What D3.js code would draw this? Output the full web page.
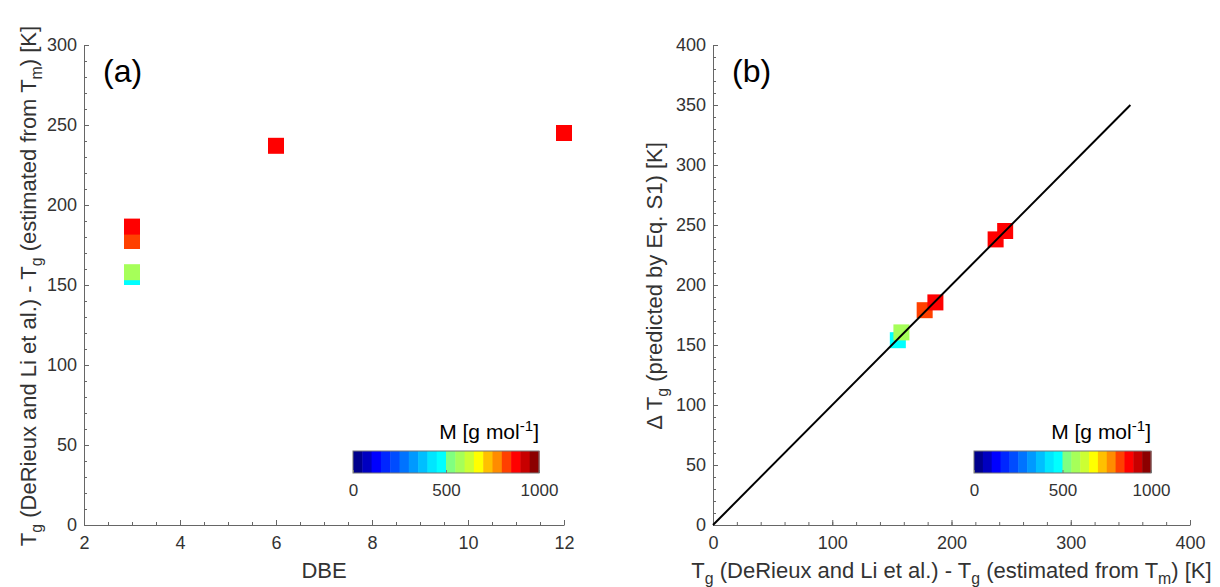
<!DOCTYPE html>
<html>
<head>
<meta charset="utf-8">
<script src="https://cdn.jsdelivr.net/npm/d3@7"></script>
<style>
  html, body { margin: 0; padding: 0; background: #fff; }
  svg { display: block; font-family: "Liberation Sans", Arial, sans-serif; }
</style>
</head>
<body>
<svg id="chart" width="1220" height="587"></svg>
<script>
// ---------------- data ----------------
const dbe       = [3, 3, 3, 3, 6, 12];
const tgDiff    = [155, 158, 177.5, 186.5, 237, 245];   // Tg(DeRieux & Li) - Tg(est. from Tm)
const tgPred    = [154, 160.5, 179, 185.5, 238, 245];   // ΔTg predicted by Eq. S1
const molarMass = [475, 575, 825, 875, 875, 875];       // M [g mol-1]

const xTicksA = [2, 4, 6, 8, 10, 12];
const yTicksA = [0, 50, 100, 150, 200, 250, 300];
const xTicksB = [0, 100, 200, 300, 400];
const yTicksB = [0, 50, 100, 150, 200, 250, 300, 350, 400];
const cbTicks = [0, 500, 1000];
const oneToOne = [0, 350];

const jetColors = [
  "#00008c", "#0000c0", "#0000ff", "#0026ff", "#004cff",
  "#0073ff", "#0099ff", "#00bfff", "#00e6ff", "#00ffff",
  "#80ff80", "#a6ff59", "#ccff33", "#ffff00", "#ffc000",
  "#ff8c00", "#ff4000", "#ff0000", "#c80000", "#8c0000"
];

// ---------------- helpers ----------------
const svg = d3.select("#chart");
svg.append("rect").attr("width", 1220).attr("height", 587).attr("fill", "#fff");

const color = d3.scaleQuantize().domain([0, 1000]).range(jetColors);

function rich(textSel, parts, fs) {
  let pending = 0;
  parts.forEach(p => {
    const t = textSel.append("tspan").text(p.t);
    if (p.sub) {
      t.attr("font-size", fs * 0.72).attr("dy", pending + fs * 0.27);
      pending = -fs * 0.27;
    } else if (p.sup) {
      t.attr("font-size", fs * 0.72).attr("dy", pending - fs * 0.4);
      pending = fs * 0.4;
    } else {
      if (pending) t.attr("dy", pending);
      pending = 0;
    }
  });
}

const axisColor = "#666";
const textColor = "#333";

function styleAxis(g) {
  g.selectAll(".domain").attr("stroke", axisColor).attr("stroke-width", 1);
  g.selectAll(".tick line").attr("stroke", axisColor);
  g.selectAll(".tick text").attr("fill", textColor).attr("font-size", 18)
    .attr("font-family", "Liberation Sans, Arial, sans-serif");
}

function panel(o) {
  const x = d3.scaleLinear().domain(o.xDomain).range([o.left, o.right]);
  const y = d3.scaleLinear().domain(o.yDomain).range([o.bottom, o.top]);
  const g = svg.append("g");

  // minor ticks
  g.append("g").attr("transform", `translate(0,${o.bottom})`)
    .call(d3.axisBottom(x).tickValues(d3.range(o.xDomain[0], o.xDomain[1] + 1e-9, o.xMinor)).tickSize(-3).tickFormat(""))
    .call(s => { s.select(".domain").remove(); s.selectAll("line").attr("stroke", axisColor); s.selectAll("text").remove(); });
  g.append("g").attr("transform", `translate(${o.left},0)`)
    .call(d3.axisLeft(y).tickValues(d3.range(o.yDomain[0], o.yDomain[1] + 1e-9, o.yMinor)).tickSize(-3).tickFormat(""))
    .call(s => { s.select(".domain").remove(); s.selectAll("line").attr("stroke", axisColor); s.selectAll("text").remove(); });

  // major axes
  const gx = g.append("g").attr("transform", `translate(0,${o.bottom})`)
    .call(d3.axisBottom(x).tickValues(o.xTicks).tickFormat(d3.format("d")).tickSize(-5).tickSizeOuter(0).tickPadding(10));
  styleAxis(gx);
  gx.selectAll(".tick text").attr("dy", "0.8em");
  const gy = g.append("g").attr("transform", `translate(${o.left},0)`)
    .call(d3.axisLeft(y).tickValues(o.yTicks).tickFormat(d3.format("d")).tickSize(-5).tickSizeOuter(0).tickPadding(7));
  styleAxis(gy);

  // markers
  const ms = 16;
  g.append("g").selectAll("rect").data(o.points).join("rect")
    .attr("x", d => x(d.x) - ms / 2)
    .attr("y", d => y(d.y) - ms / 2)
    .attr("width", ms).attr("height", ms)
    .attr("fill", d => color(d.m));

  if (o.line) {
    g.append("line")
      .attr("x1", x(o.line[0])).attr("y1", y(o.line[0]))
      .attr("x2", x(o.line[1])).attr("y2", y(o.line[1]))
      .attr("stroke", "#000").attr("stroke-width", 2);
  }

  // panel label
  g.append("text").attr("x", o.left + 19).attr("y", 82)
    .attr("font-size", 32).attr("fill", "#000").text(o.tag);

  // axis labels
  const fs = 22;
  const xl = g.append("text").attr("x", (o.left + o.right) / 2 + (o.xLabelShift || 0)).attr("y", 578)
    .attr("text-anchor", "middle").attr("font-size", fs).attr("fill", textColor);
  rich(xl, o.xLabel, fs);
  const yl = g.append("text")
    .attr("transform", `translate(${o.yLabelX},${(o.top + o.bottom) / 2 + (o.yLabelShift || 0)}) rotate(-90)`)
    .attr("text-anchor", "middle").attr("font-size", fs).attr("fill", textColor);
  rich(yl, o.yLabel, fs);

  // colorbar
  const cb = g.append("g");
  const cx = d3.scaleLinear().domain([0, 1000]).range([o.cb[0], o.cb[1]]);
  const cbTop = 451, cbH = 22;
  cb.selectAll("rect").data(jetColors).join("rect")
    .attr("x", (d, i) => cx(i * 50))
    .attr("y", cbTop)
    .attr("width", (d, i) => cx((i + 1) * 50) - cx(i * 50) + 0.5)
    .attr("height", cbH)
    .attr("fill", d => d);
  cb.append("rect").attr("x", o.cb[0]).attr("y", cbTop).attr("width", o.cb[1] - o.cb[0]).attr("height", cbH)
    .attr("fill", "none").attr("stroke", "#777").attr("stroke-width", 1);
  const ca = cb.append("g").attr("transform", `translate(0,${cbTop + cbH})`)
    .call(d3.axisBottom(cx).tickValues(cbTicks).tickFormat(d3.format("d")).tickSize(-3).tickSizeOuter(0).tickPadding(9));
  ca.select(".domain").remove();
  ca.selectAll(".tick line").attr("stroke", "#777");
  ca.selectAll(".tick text").attr("fill", textColor).attr("font-size", 17)
    .attr("font-family", "Liberation Sans, Arial, sans-serif").attr("dy", "0.8em");
  const ct = cb.append("text").attr("x", o.cb[1]).attr("y", 439)
    .attr("text-anchor", "end").attr("font-size", 21).attr("fill", "#000");
  rich(ct, [{t: "M [g mol"}, {t: "-1", sup: true}, {t: "]"}], 21);
}

const pts = d => dbe.map((v, i) => d(i));

const tgLabel = [
  {t: "T"}, {t: "g", sub: true}, {t: " (DeRieux and Li et al.) - T"}, {t: "g", sub: true},
  {t: " (estimated from T"}, {t: "m", sub: true}, {t: ") [K]"}
];

panel({
  left: 84, right: 564, top: 45, bottom: 525,
  xDomain: [2, 12], yDomain: [0, 300],
  xTicks: xTicksA, yTicks: yTicksA, xMinor: 0.5, yMinor: 10,
  points: pts(i => ({x: dbe[i], y: tgDiff[i], m: molarMass[i]})),
  tag: "(a)",
  xLabel: [{t: "DBE"}],
  yLabel: tgLabel, yLabelX: 36, yLabelShift: 1,
  cb: [353, 539]
});

panel({
  left: 713, right: 1190, top: 45, bottom: 525,
  xDomain: [0, 400], yDomain: [0, 400],
  xTicks: xTicksB, yTicks: yTicksB, xMinor: 20, yMinor: 10,
  points: pts(i => ({x: tgDiff[i], y: tgPred[i], m: molarMass[i]})),
  line: oneToOne,
  tag: "(b)",
  xLabel: tgLabel, xLabelShift: 0,
  yLabel: [{t: "\u0394 T"}, {t: "g", sub: true}, {t: " (predicted by Eq. S1) [K]"}], yLabelX: 662, yLabelShift: 1,
  cb: [974, 1151]
});
</script>
</body>
</html>
